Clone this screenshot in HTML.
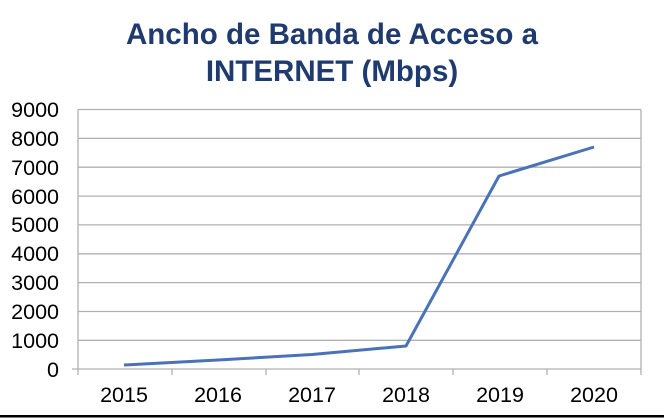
<!DOCTYPE html>
<html><head><style>
body{margin:0;background:#fff;}
svg{display:block;font-family:"Liberation Sans",Arial,sans-serif;}
</style></head><body>
<svg width="664" height="419" viewBox="0 0 664 419">
<rect width="664" height="419" fill="#fff"/>
<text x="332" y="44" text-anchor="middle" font-size="29.5" font-weight="bold" fill="#1f3a6e">Ancho de Banda de Acceso a</text>
<text x="332" y="81" text-anchor="middle" font-size="29.5" font-weight="bold" fill="#1f3a6e">INTERNET (Mbps)</text>
<g stroke="#b0b0b0" stroke-width="1.3">
<line x1="78" y1="109.5" x2="641" y2="109.5"/>
<line x1="78" y1="138.4" x2="641" y2="138.4"/>
<line x1="78" y1="167.2" x2="641" y2="167.2"/>
<line x1="78" y1="196.1" x2="641" y2="196.1"/>
<line x1="78" y1="224.9" x2="641" y2="224.9"/>
<line x1="78" y1="253.8" x2="641" y2="253.8"/>
<line x1="78" y1="282.6" x2="641" y2="282.6"/>
<line x1="78" y1="311.5" x2="641" y2="311.5"/>
<line x1="78" y1="340.3" x2="641" y2="340.3"/>
<line x1="78" y1="109.5" x2="78" y2="375"/>
<line x1="641" y1="109.5" x2="641" y2="375"/>
<line x1="72" y1="369" x2="641" y2="369"/>
<line x1="172" y1="369" x2="172" y2="375"/>
<line x1="266" y1="369" x2="266" y2="375"/>
<line x1="359" y1="369" x2="359" y2="375"/>
<line x1="453" y1="369" x2="453" y2="375"/>
<line x1="547" y1="369" x2="547" y2="375"/>
</g>
<g font-size="21.5" fill="#000" text-anchor="end">
<text x="59" y="117">9000</text>
<text x="59" y="146">8000</text>
<text x="59" y="175">7000</text>
<text x="59" y="204">6000</text>
<text x="59" y="232">5000</text>
<text x="59" y="261">4000</text>
<text x="59" y="290">3000</text>
<text x="59" y="319">2000</text>
<text x="59" y="348">1000</text>
<text x="59" y="377">0</text>
</g>
<g font-size="21.5" fill="#000" text-anchor="middle">
<text x="124" y="402">2015</text>
<text x="218" y="402">2016</text>
<text x="312" y="402">2017</text>
<text x="406" y="402">2018</text>
<text x="500" y="402">2019</text>
<text x="594" y="402">2020</text>
</g>
<polyline fill="none" stroke="#4a72b8" stroke-width="3" stroke-linejoin="round" points="124,365 218,360 312,354.5 406,346 499,176 594,147"/>
<rect x="0" y="415" width="664" height="2.5" fill="#000"/>
</svg>
</body></html>
